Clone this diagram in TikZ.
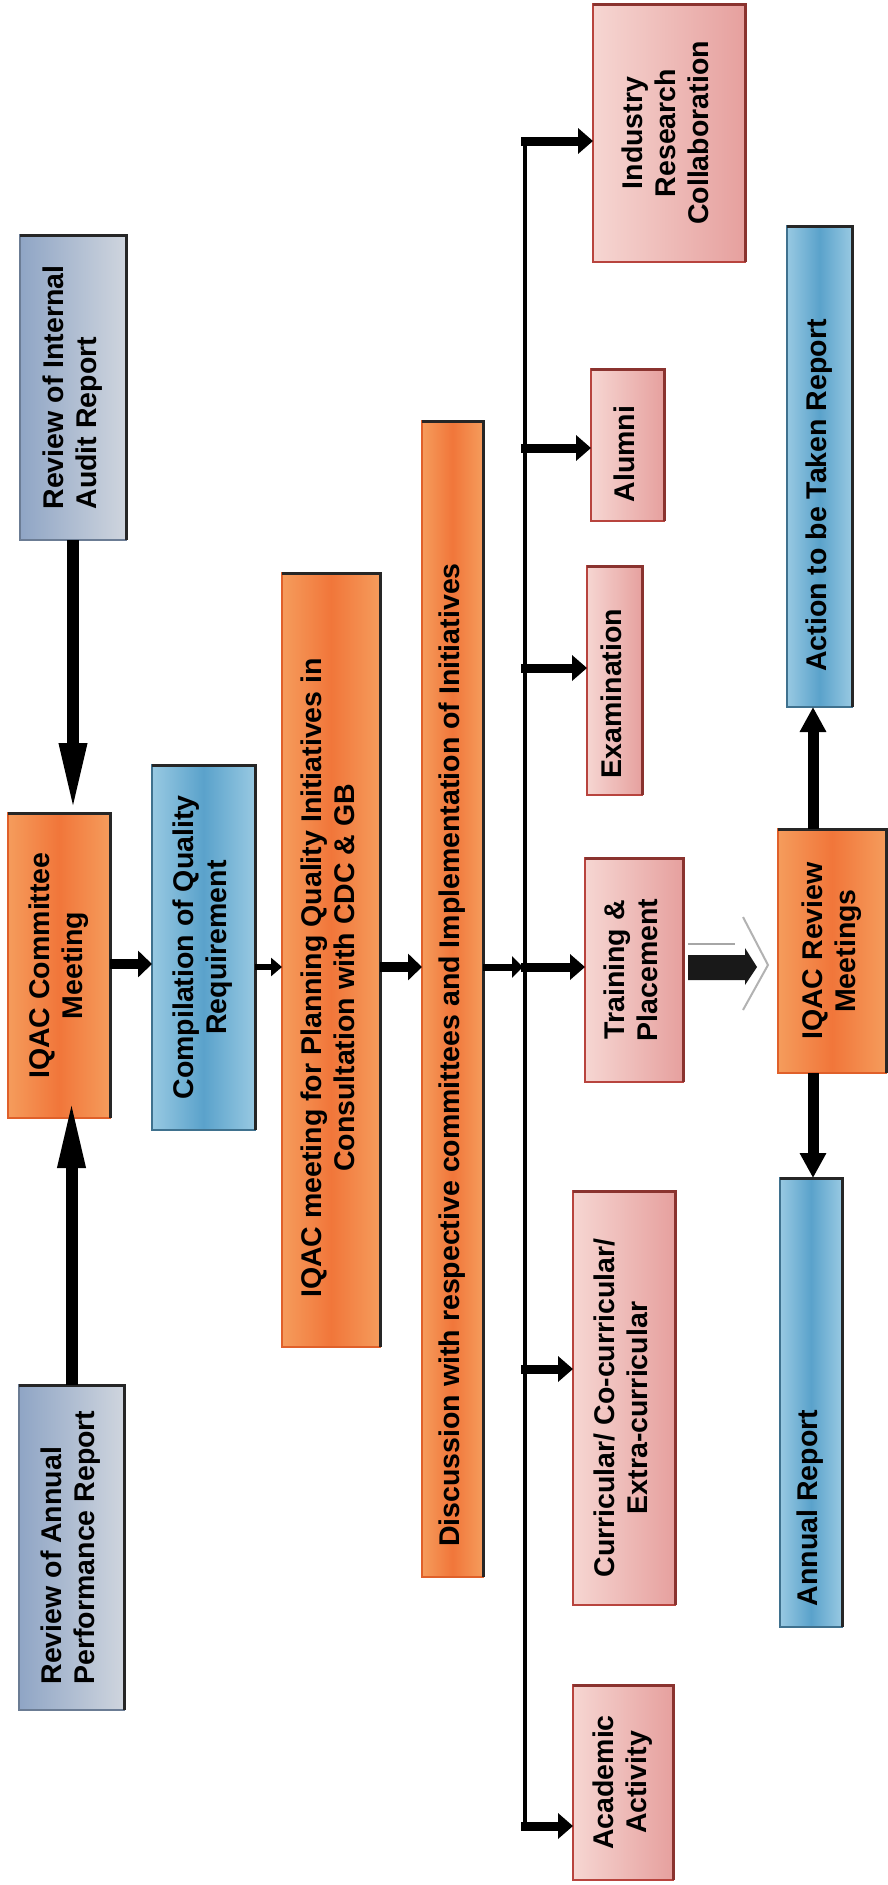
\documentclass[tikz,border=0pt]{standalone}
\usepackage{fontspec}
\setmainfont{Liberation Sans}
\usepackage{graphicx}
\usetikzlibrary{arrows.meta,calc}
\definecolor{orL}{HTML}{F59C5C}
\definecolor{orM}{HTML}{F1763A}
\definecolor{orD}{HTML}{E0602A}
\definecolor{blL}{HTML}{98C9E2}
\definecolor{blM}{HTML}{5AA2CB}
\definecolor{gbL}{HTML}{CFD5DE}
\definecolor{gbD}{HTML}{8FA5C5}
\definecolor{pkL}{HTML}{F6D6D2}
\definecolor{pkD}{HTML}{E6A09E}
\definecolor{pkB}{HTML}{B8443E}
\newcommand{\rtxt}[2][c]{\rotatebox{90}{\begin{tabular}{@{}#1@{}}#2\end{tabular}}}
\begin{document}
\begin{tikzpicture}[x=1pt,y=-1pt,
  box/.style={rectangle, inner sep=0pt, outer sep=0pt, line width=1.2pt,
    font=\fontsize{28.5}{33}\selectfont\bfseries, text=black},
  obox/.style={box, draw=orD, left color=orL, right color=orL, middle color=orM},
  bbox/.style={box, draw=blM!70!black, left color=blL, right color=blL, middle color=blM},
  gbox/.style={box, draw=gbD!75!black, left color=gbD, right color=gbL},
  pbox/.style={box, draw=pkB, line width=2pt, left color=pkL, right color=pkD},
  darkedge/.style={draw=black!85, line width=3pt},
  redge/.style={draw=pkB!75!black, line width=3pt},
  vbig/.style={line width=12pt, -{Triangle[length=70pt,width=25pt]}},
  vmed/.style={line width=11pt, -{Triangle[length=25pt,width=25pt]}},
  hmid/.style={line width=10pt, -{Triangle[length=14pt,width=26pt]}},
  hthin/.style={line width=6pt, -{Triangle[length=11pt,width=18pt]}},
  branch/.style={line width=9pt, -{Triangle[length=15pt,width=25pt]}},
  spine/.style={line width=4pt}
]
\useasboundingbox (0,0) rectangle (888,1885);
\fill[white] (0,0) rectangle (888,1885);

% left column
\node[gbox, minimum width=106, minimum height=305] (ia) at (73,387.5)
  {\rtxt[l]{Review of Internal\\Audit Report}};
\node[gbox, minimum width=105, minimum height=325] (ap) at (71.5,1547.5)
  {\rtxt[l]{Review of Annual\\Performance Report}};
\node[obox, minimum width=102, minimum height=305] (com) at (59,965.5)
  {\rtxt{IQAC Committee\\Meeting}};
\node[bbox, minimum width=103, minimum height=365] (cmp) at (203.5,947.5)
  {\rtxt{Compilation of Quality\\Requirement}};
\node[obox, minimum width=98, minimum height=774] (plan) at (331,960)
  {\rtxt{IQAC meeting for Planning Quality Initiatives in\hspace*{36pt}\\Consultation with CDC \& GB\hspace*{36pt}}};
\node[obox, minimum width=61, minimum height=1156] (disc) at (452.5,999)
  {\rtxt{Discussion with respective committees and Implementation of Initiatives\hspace*{112pt}}};

% branch boxes
\node[pbox, minimum width=152, minimum height=258] (ind) at (669,133)
  {\rtxt{Industry\\Research\\Collaboration}};
\node[pbox, minimum width=73, minimum height=152] (alu) at (627.5,445)
  {\rtxt{Alumni\hspace*{18pt}}};
\node[pbox, minimum width=55, minimum height=229] (exm) at (614.5,680.5)
  {\rtxt{Examination\hspace*{26pt}}};
\node[pbox, minimum width=98, minimum height=224] (trn) at (634,970)
  {\rtxt{Training \&\\Placement}};
\node[pbox, minimum width=102, minimum height=414] (cur) at (624,1398)
  {\rtxt{Curricular/ Co-curricular/\hspace*{20pt}\\Extra-curricular\hspace*{20pt}}};
\node[pbox, minimum width=100, minimum height=195] (aca) at (623,1782.5)
  {\rtxt{Academic\\Activity}};

% right column
\node[obox, minimum width=108, minimum height=244] (rev) at (832,951)
  {\rtxt{IQAC Review\\Meetings}};
\node[bbox, minimum width=65, minimum height=481] (act) at (819.5,466.5)
  {\rtxt{Action to be Taken Report\hspace*{58pt}}};
\node[bbox, minimum width=62, minimum height=449] (ann) at (811,1402.5)
  {\rtxt{Annual Report\hspace*{211pt}}};

% dark edges (top and right)
\foreach \n in {ia,ap,com,cmp,plan,disc,rev,act,ann}
  \draw[darkedge] (\n.north west) -- (\n.north east) -- (\n.south east);
\foreach \n in {ind,alu,exm,trn,cur,aca}
  \draw[redge] (\n.north west) -- (\n.north east) -- (\n.south east);

% coordinates
\coordinate (r1) at (0,964);
\coordinate (r2) at (0,967);
\coordinate (spT) at (525,137);
\coordinate (spB) at (525,1830);
\coordinate (sj) at (523,967);
\coordinate (s1) at (521,141);
\coordinate (s2) at (521,448);
\coordinate (s3) at (521,668);
\coordinate (s4) at (521,967);
\coordinate (s5) at (521,1369);
\coordinate (s6) at (521,1826);
\coordinate (rx) at (813,0);

% connectors, left part
\draw[vbig] (ia.south) -- (ia.south |- com.north);
\draw[vbig, shorten >=-20pt] (ap.north) -- (ap.north |- com.south);
\draw[hmid] (com.east |- r1) -- (cmp.west |- r1);
\draw[hthin] (cmp.east |- r2) -- (plan.west |- r2);
\draw[hmid] (plan.east |- r2) -- (disc.west |- r2);
\draw[hthin, line width=7pt, -{Triangle[length=11pt,width=21pt]}] (disc.east |- r2) -- (sj);

% spine and branches
\draw[spine] (spT) -- (spB);
\draw[branch] (s1) -- (s1 -| ind.west);
\draw[branch] (s2) -- (s2 -| alu.west);
\draw[branch] (s3) -- (s3 -| exm.west);
\draw[branch] (s4) -- (s4 -| trn.west);
\draw[branch] (s5) -- (s5 -| cur.west);
\draw[branch] (s6) -- (s6 -| aca.west);

% training -> review block arrow
\coordinate (bk) at (trn.east |- r2);
\draw[gray!70, line width=1.2pt] ($(bk)+(5,-23)$) -- ($(bk)+(52,-23)$);
\fill[black!90] ($(bk)+(5,-12)$) -- ($(bk)+(62,-12)$) -- ($(bk)+(62,-19)$)
  -- ($(bk)+(74,0)$) -- ($(bk)+(62,18)$) -- ($(bk)+(62,13)$) -- ($(bk)+(5,13)$) -- cycle;
\draw[gray!60, line width=2pt] ($(bk)+(60,-50)$) -- ($(bk)+(85,-2)$) -- ($(bk)+(60,43)$);

% review outputs
\draw[vmed] (rx |- rev.north) -- (rx |- act.south);
\draw[vmed] (rx |- rev.south) -- (rx |- ann.north);
\end{tikzpicture}
\end{document}
